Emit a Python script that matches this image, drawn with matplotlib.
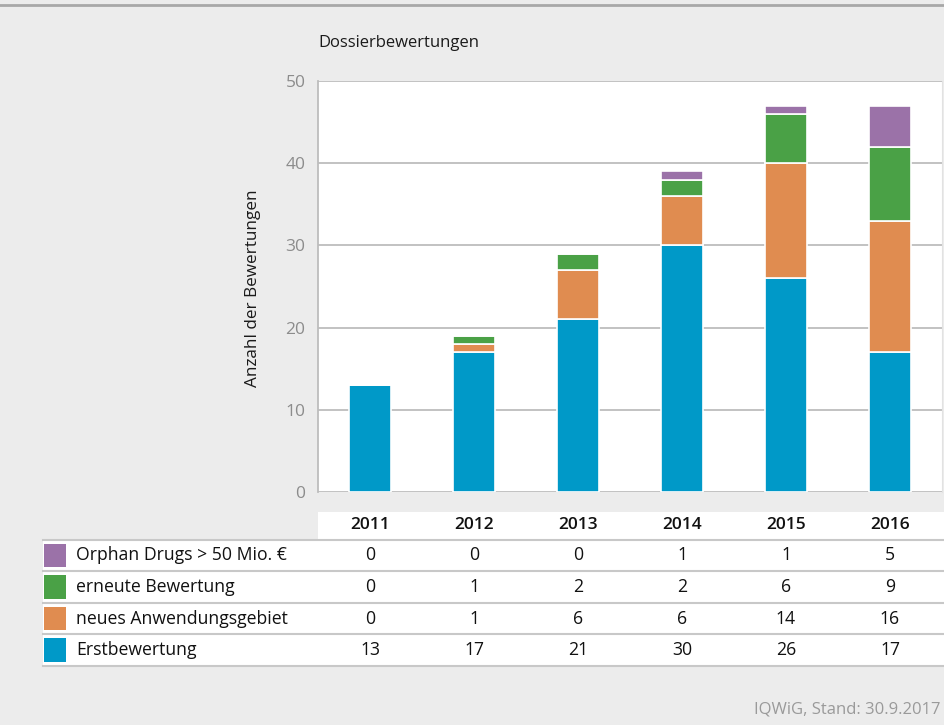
import numpy as np
import matplotlib
matplotlib.use("Agg")
import matplotlib.pyplot as plt
from matplotlib.patches import Rectangle
from matplotlib import transforms

plt.rcParams['font.family'] = ['Open Sans', 'DejaVu Sans']

# data
years = ['2011', '2012', '2013', '2014', '2015', '2016']
erstbewertung = [13, 17, 21, 30, 26, 17]
neues_gebiet = [0, 1, 6, 6, 14, 16]
erneute = [0, 1, 2, 2, 6, 9]
orphan = [0, 0, 0, 1, 1, 5]

series_names = ['Orphan Drugs > 50 Mio. €', 'erneute Bewertung',
                'neues Anwendungsgebiet', 'Erstbewertung']
series_values = [orphan, erneute, neues_gebiet, erstbewertung]
colors = ['#9b72a8', '#4aa146', '#e08c50', '#0099c8']

W, H = 944, 725
bg = '#ececec'
fig = plt.figure(figsize=(W / 100, H / 100), dpi=100, facecolor=bg)

# overlay in pixel coordinates for table, title, footer
ov = fig.add_axes([0, 0, 1, 1], facecolor='none')
ov.set_xlim(0, W)
ov.set_ylim(H, 0)
ov.axis('off')

left, right, top, bottom = 318, 942, 81, 492
ax = fig.add_axes([left / W, 1 - bottom / H, (right - left) / W, (bottom - top) / H])
ax.set_facecolor('white')

x = np.arange(len(years))
base = np.zeros(len(years))
for name, vals, col in zip(series_names[::-1], series_values[::-1], colors[::-1]):
    v = np.array(vals, dtype=float)
    ax.bar(x, v, 0.4, bottom=base, color=col, edgecolor='white', linewidth=1.2, zorder=3)
    base += v

ax.set_xlim(-0.5, len(years) - 0.5)
ax.set_ylim(0, 50)
ax.set_yticks(range(0, 51, 10))
ax.set_xticks([])
ax.yaxis.grid(True, color='#bdbdbd', linewidth=1.3, zorder=0)
ax.set_axisbelow(True)
ax.tick_params(axis='y', length=0, pad=9, labelsize=12.5, labelcolor='#8c8c8c')
for s in ['bottom', 'top']:
    ax.spines[s].set_visible(False)
ax.spines['right'].set_color('#e2e2e2')
ax.spines['left'].set_color('#bdbdbd')
ax.spines['left'].set_linewidth(1.3)

# title and axis label
ov.text(318, 43, 'Dossierbewertungen', fontsize=12, ha='left', va='center', color='#1a1a1a')
ov.text(253, 288, 'Anzahl der Bewertungen', fontsize=12.3, rotation=90,
        ha='center', va='center', color='#1a1a1a')

# top rule
ov.plot([0, W], [5, 5], color='#a8a8a8', linewidth=2, clip_on=False)

# table below the chart, columns aligned with the bars
tr = transforms.blended_transform_factory(ax.transData, ov.transData)
ov.add_patch(Rectangle((318, 512), W - 318, 27, facecolor='white', edgecolor='none'))
for i, yr in enumerate(years):
    ov.text(x[i], 525, yr, transform=tr, ha='center', va='center',
            fontsize=12.5, fontweight='semibold', color='#111111')

row_top = 539.5
row_h = 31.6
for r, (name, vals, col) in enumerate(zip(series_names, series_values, colors)):
    y0 = row_top + r * row_h
    ov.add_patch(Rectangle((43, y0), W - 43, row_h, facecolor='white', edgecolor='none'))
    ov.add_patch(Rectangle((43.5, y0 + 4), 22, row_h - 8, facecolor=col, edgecolor='none'))
    ov.text(76, y0 + row_h / 2, name, ha='left', va='center', fontsize=12.7, color='#111111')
    for i, v in enumerate(vals):
        ov.text(x[i], y0 + row_h / 2, str(v), transform=tr, ha='center', va='center',
                fontsize=12.7, color='#111111')
for r in range(len(series_names) + 1):
    y0 = row_top + r * row_h
    ov.plot([43, W], [y0, y0], color='#c8c8c8', linewidth=1.5)

ov.text(941, 709, 'IQWiG, Stand: 30.9.2017', ha='right', va='center',
        fontsize=12, color='#9a9a9a')

fig.savefig('out.png', dpi=100, facecolor=bg)
